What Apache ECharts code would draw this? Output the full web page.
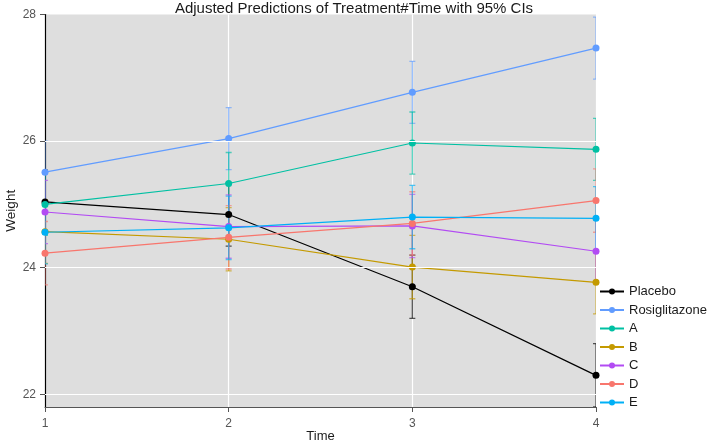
<!DOCTYPE html>
<html>
<head>
<meta charset="utf-8">
<script src="https://cdn.jsdelivr.net/npm/echarts@6/dist/echarts.min.js"></script>
<style>html,body{margin:0;padding:0;background:#fff;}#c{width:708px;height:443px;}</style>
</head>
<body>
<div id="c"></div>
<script>
var times = [1, 2, 3, 4];
var seriesNames = ['Placebo', 'Rosiglitazone', 'A', 'B', 'C', 'D', 'E'];
var placebo = [25.04, 24.84, 23.70, 22.30];
var rosiglitazone = [25.51, 26.04, 26.77, 27.47];
var groupA = [25.00, 25.33, 25.97, 25.87];
var groupB = [24.57, 24.45, 24.01, 23.77];
var groupC = [24.88, 24.65, 24.66, 24.26];
var groupD = [24.23, 24.48, 24.70, 25.06];
var groupE = [24.56, 24.63, 24.80, 24.78];
var ciHalf = [0.50, 0.49, 0.49, 0.50, 0.50, 0.50, 0.50];
var yTicks = [22, 24, 26, 28];
var colors = ['#000000', '#619CFF', '#00C0A3', '#C49A00', '#B24BF3', '#F8766D', '#00B0F6'];

var values = [placebo, rosiglitazone, groupA, groupB, groupC, groupD, groupE];
var FONT = 'Liberation Sans, Arial, sans-serif';

var series = [];
values.forEach(function (vals, i) {
  var ebData = vals.map(function (v, j) { return [times[j], v - ciHalf[i], v + ciHalf[i]]; });
  series.push({
    type: 'custom',
    name: seriesNames[i] + ' CI',
    z: 1,
    clip: true,
    silent: true,
    data: ebData,
    renderItem: function (params, api) {
      var x = api.value(0);
      var lo = api.coord([x, api.value(1)]);
      var hi = api.coord([x, api.value(2)]);
      var w = 3;
      var st = { stroke: colors[i], lineWidth: 1.3, opacity: 0.65 };
      return {
        type: 'group',
        children: [
          { type: 'line', shape: { x1: lo[0], y1: lo[1], x2: hi[0], y2: hi[1] }, style: st },
          { type: 'line', shape: { x1: lo[0] - w, y1: lo[1], x2: lo[0] + w, y2: lo[1] }, style: st },
          { type: 'line', shape: { x1: hi[0] - w, y1: hi[1], x2: hi[0] + w, y2: hi[1] }, style: st }
        ]
      };
    }
  });
});
values.forEach(function (vals, i) {
  series.push({
    type: 'line',
    name: seriesNames[i],
    z: 3,
    data: vals.map(function (v, j) { return [times[j], v]; }),
    symbol: 'circle',
    symbolSize: 7,
    showSymbol: true,
    lineStyle: { color: colors[i], width: 1.2 },
    itemStyle: { color: colors[i] },
    emphasis: { disabled: true }
  });
});
// horizontal grid lines
series.push({
  type: 'line',
  name: 'grid',
  data: [],
  z: 0,
  silent: true,
  markLine: {
    silent: true,
    symbol: ['none', 'none'],
    label: { show: false },
    lineStyle: { color: '#ffffff', width: 1.2, type: 'solid' },
    data: yTicks.slice(0, 3).map(function (t) { return { yAxis: t }; })
  }
});

var chart = echarts.init(document.getElementById('c'), null, { renderer: 'canvas' });
chart.setOption({
  animation: false,
  backgroundColor: '#ffffff',
  color: colors,
  textStyle: { fontFamily: FONT },
  title: {
    text: 'Adjusted Predictions of Treatment#Time with 95% CIs',
    left: 'center',
    top: -4,
    textStyle: { fontSize: 15, fontWeight: 'normal', color: '#1a1a1a', fontFamily: FONT }
  },
  legend: {
    data: seriesNames,
    orient: 'vertical',
    left: 594,
    top: 280,
    itemGap: 5.5,
    itemWidth: 24,
    itemHeight: 7.5,
    itemStyle: { borderWidth: 0 },
    textStyle: { fontSize: 13, color: '#1a1a1a', fontFamily: FONT }
  },
  grid: {
    left: 45,
    right: 112,
    top: 14.5,
    bottom: 36,
    outerBoundsMode: 'none',
    containLabel: false,
    show: true,
    backgroundColor: '#dedede',
    borderWidth: 0
  },
  xAxis: {
    type: 'value',
    min: 1,
    max: 4,
    interval: 1,
    name: 'Time',
    nameLocation: 'middle',
    nameGap: 23,
    nameMoveOverlap: false,
    nameTextStyle: { fontSize: 13, color: '#1a1a1a', fontFamily: FONT },
    axisLine: { show: true, lineStyle: { color: '#555555', width: 1.2 } },
    axisTick: { show: true, length: 5, lineStyle: { color: '#555555' } },
    axisLabel: { fontSize: 12, color: '#555555', margin: 11, fontFamily: FONT },
    splitLine: { show: true, lineStyle: { color: '#ffffff', width: 1.2 } }
  },
  yAxis: {
    type: 'value',
    min: 21.8,
    max: 28,
    name: 'Weight',
    nameLocation: 'middle',
    nameGap: 27,
    nameMoveOverlap: false,
    nameTextStyle: { fontSize: 13.5, color: '#1a1a1a', fontFamily: FONT },
    axisLine: { show: true, lineStyle: { color: '#000000', width: 1.2 } },
    axisTick: { show: true, length: 5, customValues: yTicks, lineStyle: { color: '#555555' } },
    axisLabel: { fontSize: 12, color: '#555555', margin: 9, customValues: yTicks, fontFamily: FONT },
    splitLine: { show: false }
  },
  series: series
});
</script>
</body>
</html>
